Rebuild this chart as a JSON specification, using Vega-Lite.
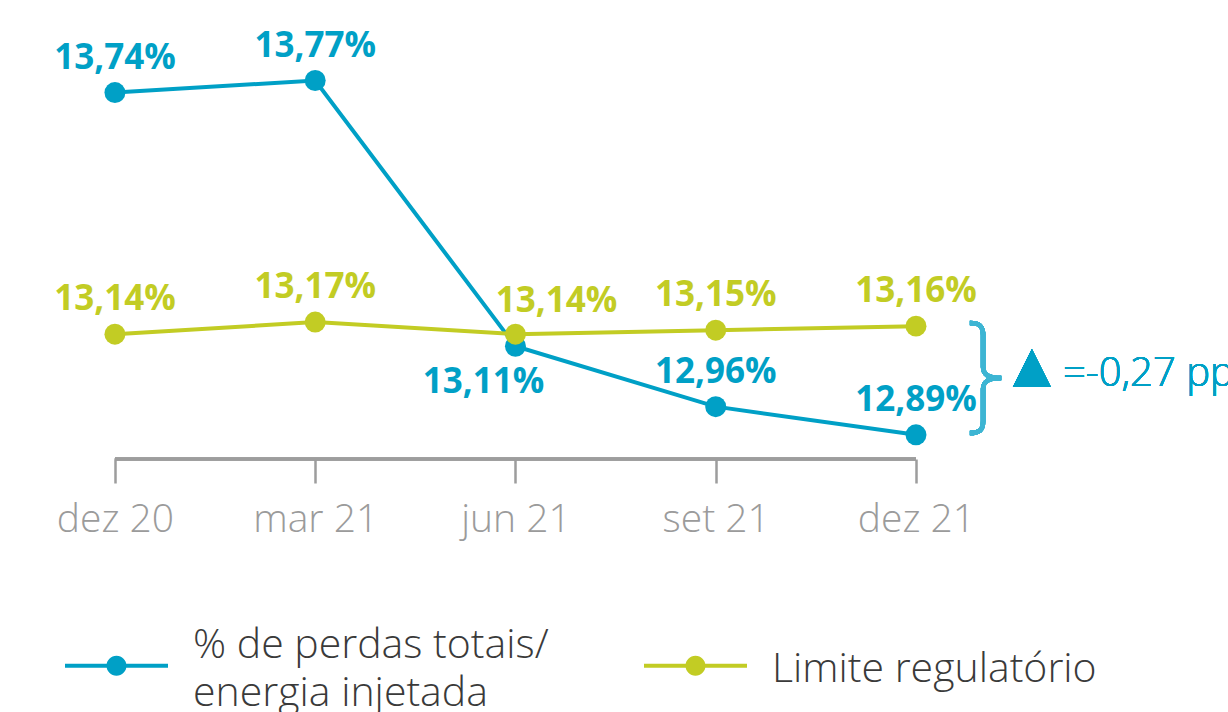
{
  "$schema": "https://vega.github.io/schema/vega-lite/v6.json",
  "width": 1228,
  "height": 459,
  "autosize": {"type": "none"},
  "padding": {"left": 0, "top": 0, "right": 0, "bottom": 253},
  "background": "white",
  "config": {
    "view": {"stroke": null},
    "locale": {"number": {"decimal": ",", "thousands": ".", "grouping": [3], "currency": ["", "%"]}}
  },
  "data": {
    "values": [
      {"series": "% de perdas totais/energia injetada", "date": "dez 20", "value": 13.74},
      {"series": "% de perdas totais/energia injetada", "date": "mar 21", "value": 13.77},
      {"series": "% de perdas totais/energia injetada", "date": "jun 21", "value": 13.11},
      {"series": "% de perdas totais/energia injetada", "date": "set 21", "value": 12.96},
      {"series": "% de perdas totais/energia injetada", "date": "dez 21", "value": 12.89},
      {"series": "Limite regulatório", "date": "dez 20", "value": 13.14},
      {"series": "Limite regulatório", "date": "mar 21", "value": 13.17},
      {"series": "Limite regulatório", "date": "jun 21", "value": 13.14},
      {"series": "Limite regulatório", "date": "set 21", "value": 13.15},
      {"series": "Limite regulatório", "date": "dez 21", "value": 13.16}
    ]
  },
  "encoding": {
    "x": {
      "field": "date",
      "type": "ordinal",
      "scale": {"type": "point", "domain": ["dez 20", "mar 21", "jun 21", "set 21", "dez 21", ""], "padding": 0.566, "align": 0.507},
      "axis": {
        "title": null,
        "values": ["dez 20", "mar 21", "jun 21", "set 21", "dez 21"],
        "domain": false,
        "grid": false,
        "labelAngle": 0,
        "ticks": true,
        "tickSize": 24,
        "tickWidth": 2.5,
        "tickColor": "#9d9d9d",
        "labelFont": "Open Sans",
        "labelFontSize": 39,
        "labelFontWeight": 300,
        "labelColor": "#9b9b9b",
        "labelPadding": 17,
        "labelBaseline": "top"
      }
    }
  },
  "layer": [
    {
      "mark": {"type": "rule", "stroke": "#9d9d9d", "strokeWidth": 2.5},
      "encoding": {
        "x": {"datum": "dez 20", "type": "ordinal"},
        "x2": {"datum": "dez 21"},
        "y": {"datum": 12.83, "type": "quantitative", "axis": null}
      }
    },
    {
      "mark": {"type": "line", "strokeWidth": 4},
      "encoding": {
        "y": {"field": "value", "type": "quantitative", "scale": {"domain": [12.83, 13.97], "zero": false, "nice": false}, "axis": null},
        "color": {
          "field": "series",
          "type": "nominal",
          "scale": {"domain": ["% de perdas totais/energia injetada", "Limite regulatório"], "range": ["#00a0c6", "#c2cc24"]},
          "legend": {
            "orient": "none",
            "legendX": 65,
            "legendY": 614,
            "direction": "horizontal",
            "title": null,
            "symbolType": "M-1,-0.04 L1,-0.04 L1,0.04 L-1,0.04 Z M0,-0.194 A0.194,0.194 0 1,1 0,0.194 A0.194,0.194 0 1,1 0,-0.194 Z",
            "symbolSize": 10609,
            "symbolStrokeWidth": 0,
            "symbolOpacity": 1,
            "labelFont": "Open Sans",
            "labelFontSize": 41,
            "labelFontWeight": 300,
            "labelColor": "#3a3a3a",
            "labelLimit": 700,
            "labelOffset": 25,
            "columnPadding": 95,
            "labelExpr": "datum.label == '% de perdas totais/energia injetada' ? ['% de perdas totais/', 'energia injetada'] : ['', datum.label, '']",
            "encode": {
              "symbols": {"update": {"fill": {"scale": "color", "field": "value"}, "stroke": {"value": "transparent"}}},
              "labels": {"update": {"lineHeight": {"signal": "datum.value == '% de perdas totais/energia injetada' ? 48 : 24"}, "dy": {"value": -20}}}
            }
          }
        }
      }
    },
    {
      "mark": {"type": "point", "filled": true, "size": 440, "opacity": 1},
      "encoding": {
        "y": {"field": "value", "type": "quantitative", "axis": null},
        "color": {"field": "series", "type": "nominal"}
      }
    },
    {
      "transform": [{"filter": "datum.date != 'jun 21'"}],
      "mark": {"type": "text", "font": "Open Sans", "fontSize": 35, "fontWeight": "bold", "dy": -35, "baseline": "middle"},
      "encoding": {
        "y": {"field": "value", "type": "quantitative", "axis": null},
        "text": {"field": "value", "type": "quantitative", "format": "$.2f"},
        "color": {"field": "series", "type": "nominal", "legend": null}
      }
    },
    {
      "transform": [{"filter": "datum.date == 'jun 21' && datum.series != 'Limite regulatório'"}],
      "mark": {"type": "text", "font": "Open Sans", "fontSize": 35, "fontWeight": "bold", "dy": 36, "dx": -32, "baseline": "middle"},
      "encoding": {
        "y": {"field": "value", "type": "quantitative", "axis": null},
        "text": {"field": "value", "type": "quantitative", "format": "$.2f"},
        "color": {"field": "series", "type": "nominal", "legend": null}
      }
    },
    {
      "transform": [{"filter": "datum.date == 'jun 21' && datum.series == 'Limite regulatório'"}],
      "mark": {"type": "text", "font": "Open Sans", "fontSize": 35, "fontWeight": "bold", "dy": -33, "dx": 41, "baseline": "middle"},
      "encoding": {
        "y": {"field": "value", "type": "quantitative", "axis": null},
        "text": {"field": "value", "type": "quantitative", "format": "$.2f"},
        "color": {"field": "series", "type": "nominal", "legend": null}
      }
    },
    {
      "mark": {
        "type": "point",
        "shape": "M0.98,-1 C1.15,-1 1.22,-0.95 1.22,-0.78 L1.22,-0.2 C1.22,-0.06 1.32,0 1.55,0 C1.32,0 1.22,0.06 1.22,0.2 L1.22,0.78 C1.22,0.95 1.15,1 0.98,1",
        "filled": false,
        "fill": null,
        "stroke": "#3db5d3",
        "strokeWidth": 4.5,
        "opacity": 1,
        "size": 12100
      },
      "encoding": {
        "x": {"datum": "dez 21", "type": "ordinal"},
        "y": {"datum": 13.031, "type": "quantitative", "axis": null}
      }
    },
    {
      "mark": {
        "type": "point",
        "shape": "M6.1,-1 L7.1,1 L5.1,1 Z",
        "filled": true,
        "fill": "#00a0c6",
        "opacity": 1,
        "size": 1444
      },
      "encoding": {
        "x": {"datum": "dez 21", "type": "ordinal"},
        "y": {"datum": 13.056, "type": "quantitative", "axis": null}
      }
    },
    {
      "mark": {"type": "text", "text": "=-0,27 pp", "font": "Open Sans", "fontSize": 40, "fontWeight": 300, "color": "#00a0c6", "align": "left", "baseline": "middle", "dx": 147},
      "encoding": {
        "x": {"datum": "dez 21", "type": "ordinal"},
        "y": {"datum": 13.04, "type": "quantitative", "axis": null}
      }
    }
  ]
}
